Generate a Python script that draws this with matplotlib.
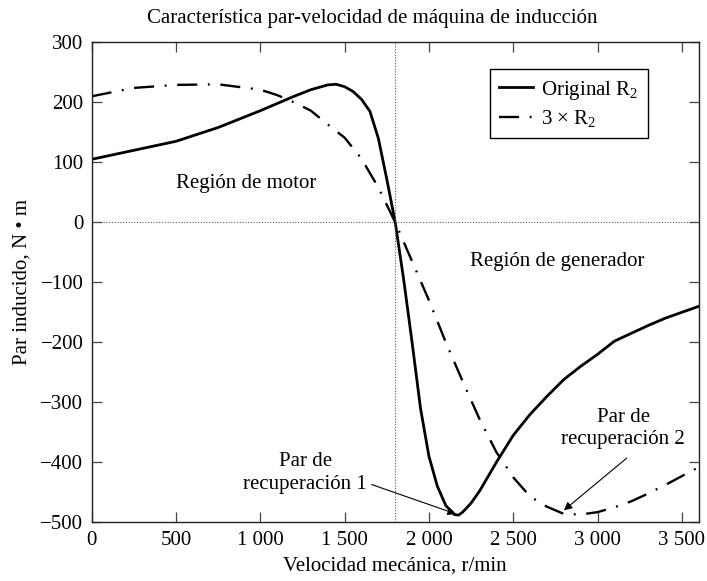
import matplotlib
matplotlib.use("Agg")
import matplotlib.pyplot as plt

plt.rcParams["font.family"] = ["Liberation Serif", "DejaVu Serif"]
plt.rcParams["mathtext.fontset"] = "custom"
plt.rcParams["mathtext.rm"] = "Liberation Serif"
plt.rcParams["mathtext.it"] = "Liberation Serif:italic"

# Torque-speed data, original rotor resistance
speed_orig = [0, 250, 500, 750, 1000, 1200, 1300, 1400, 1450, 1500, 1550, 1600,
              1650, 1700, 1750, 1800, 1850, 1900, 1950, 2000, 2050, 2100, 2150,
              2175, 2200, 2250, 2300, 2400, 2500, 2600, 2700, 2800, 2900, 3000,
              3100, 3200, 3300, 3400, 3500, 3600]
torque_orig = [105, 120, 135, 158, 186, 210, 221, 229, 230, 226, 218, 205,
               185, 140, 72, 0, -95, -200, -310, -390, -440, -472, -487,
               -488, -483, -468, -448, -400, -355, -320, -290, -262, -240, -220,
               -198, -185, -172, -160, -150, -140]

# Torque-speed data, rotor resistance tripled
speed_3r2 = [0, 250, 500, 750, 1000, 1100, 1200, 1300, 1400, 1500, 1600, 1700,
             1800, 1900, 2000, 2100, 2200, 2300, 2400, 2500, 2600, 2700, 2800,
             2900, 3000, 3100, 3200, 3300, 3400, 3500, 3600]
torque_3r2 = [210, 224, 229, 230, 221, 212, 200, 186, 163, 141, 106, 58,
              0, -65, -130, -200, -265, -328, -383, -425, -457, -474, -486,
              -487, -483, -475, -465, -452, -438, -423, -408]

sync_speed = 1800

x_ticks = [0, 500, 1000, 1500, 2000, 2500, 3000, 3500]
x_tick_labels = ["0", "500", "1 000", "1 500", "2 000", "2 500", "3 000", "3 500"]
y_ticks = [-500, -400, -300, -200, -100, 0, 100, 200, 300]
y_tick_labels = ["\u2212500", "\u2212400", "\u2212300", "\u2212200", "\u2212100",
                 "0", "100", "200", "300"]

fig = plt.figure(figsize=(7.07, 5.81), dpi=100)
ax = fig.add_axes([0.1297, 0.1010, 0.8586, 0.8262])

ax.plot(speed_orig, torque_orig, color="black", lw=2.0,
        solid_joinstyle="round", label="Original R$_2$")
ax.plot(speed_3r2, torque_3r2, color="black", lw=1.7,
        linestyle=(0, (8.5, 4.5, 0.8, 4.5)), label="3 \u00d7 R$_2$")

# reference lines at synchronous speed and zero torque
ax.axvline(sync_speed, color="#555555", lw=0.8, linestyle=(0, (1, 1.5)))
ax.axhline(0, color="#555555", lw=0.8, linestyle=(0, (1, 1.5)))

ax.set_xlim(0, 3600)
ax.set_ylim(-500, 300)
ax.set_xticks(x_ticks)
ax.set_xticklabels(x_tick_labels)
ax.set_yticks(y_ticks)
ax.set_yticklabels(y_tick_labels)
ax.tick_params(direction="in", length=7, width=0.9, top=True, right=True,
               labelsize=15, pad=6, color="#444444")

for sp in ax.spines.values():
    sp.set_linewidth(1.0)
    sp.set_color("#222222")

fig.text(0.526, 1 - 18 / 581, "Característica par-velocidad de máquina de inducción",
         fontsize=15, ha="center", va="center")
ax.set_xlabel("Velocidad mecánica, r/min", fontsize=15, labelpad=5)
ax.set_ylabel("Par inducido, N \u2022 m", fontsize=15, labelpad=6)

leg = ax.legend(loc="upper left", bbox_to_anchor=(0.656, 0.944),
                borderaxespad=0, fontsize=15, fancybox=False,
                edgecolor="black", framealpha=1, handlelength=1.6,
                handletextpad=0.4, borderpad=0.45, labelspacing=0.3)
leg.get_frame().set_linewidth(1.0)

ax.text(918, 64, "Región de motor", fontsize=15, ha="center", va="center")
ax.text(2760, -66, "Región de generador", fontsize=15, ha="center", va="center")

ax.text(1266, -418, "Par de\nrecuperación 1", fontsize=15, ha="center",
        va="center", linespacing=1.25)
ax.text(3153, -344, "Par de\nrecuperación 2", fontsize=15, ha="center",
        va="center", linespacing=1.25)

arrow = dict(arrowstyle="-|>", color="black", lw=0.8, mutation_scale=12,
             shrinkA=0, shrinkB=0)
ax.annotate("", xy=(2160, -486), xytext=(1660, -437), arrowprops=arrow)
ax.annotate("", xy=(2800, -480), xytext=(3173, -393), arrowprops=arrow)

fig.savefig("out.png", dpi=100)
